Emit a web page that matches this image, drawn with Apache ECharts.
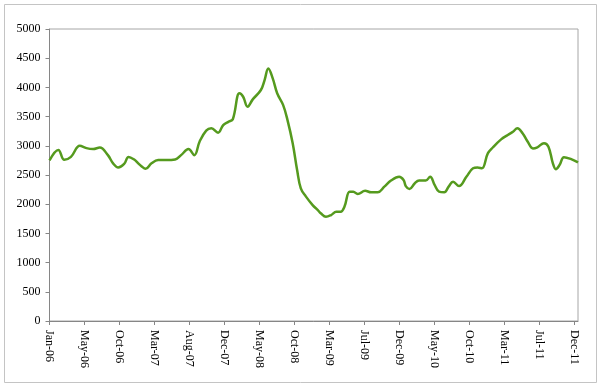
<!DOCTYPE html>
<html>
<head>
<meta charset="utf-8">
<script src="https://cdn.jsdelivr.net/npm/echarts@6/dist/echarts.min.js"></script>
<style>
  html, body { margin: 0; padding: 0; background: #fff; }
  #chart { width: 600px; height: 385px; }
</style>
</head>
<body>
<div id="chart"></div>
<script>
// Month offsets from Jan-06 (fractional months) and the index values
const months = [0, 1.2, 2.0, 2.9, 4.1, 5.0, 5.9, 6.8, 7.9, 8.6, 9.3, 10.1, 10.7, 11.5, 12.0, 12.4, 13.0, 13.8, 14.7, 15.8,
  17.0, 17.8, 18.8, 19.6, 20.3, 21.2, 21.9, 22.8, 23.5, 24.2, 24.8, 25.7, 26.2, 26.8, 27.5, 28.6, 29.1, 29.6, 30.2, 30.8,
  31.6, 32.2, 32.9, 33.5, 34.0, 34.7, 35.6, 36.3, 36.7, 37.4, 38.1, 38.8, 39.4, 39.9, 40.6, 41.1, 41.7, 42.7, 43.5, 44.4,
  45.3, 46.2, 47.3, 47.9, 48.2, 48.7, 49.4, 50.0, 50.9, 51.5, 52.1, 52.7, 53.4, 54.0, 54.6, 55.4, 56.4, 57.3, 57.9, 58.5,
  59.3, 60.0, 61.1, 62.0, 62.7, 63.3, 64.0, 64.7, 65.4, 66.0, 66.9, 67.5, 68.1, 68.5, 69.0, 69.6, 70.5, 71.5];
const values = [2750, 2930, 2760, 2810, 3000, 2960, 2945, 2970, 2840, 2700, 2630, 2690, 2810, 2760, 2700, 2655, 2605, 2700, 2755, 2755,
  2765, 2840, 2945, 2840, 3070, 3260, 3300, 3225, 3355, 3410, 3455, 3900, 3840, 3670, 3795, 3955, 4125, 4325, 4155, 3900,
  3700, 3440, 3045, 2585, 2270, 2130, 1985, 1900, 1845, 1785, 1815, 1870, 1870, 1955, 2215, 2215, 2175, 2230, 2205, 2205,
  2300, 2405, 2470, 2415, 2310, 2260, 2355, 2405, 2405, 2470, 2330, 2215, 2205, 2300, 2385, 2310, 2470, 2615, 2630, 2615,
  2870, 2975, 3110, 3185, 3240, 3300, 3215, 3070, 2955, 2975, 3045, 2985, 2700, 2600, 2670, 2805, 2775, 2715];
const tickLabels = ['Jan-06', 'May-06', 'Oct-06', 'Mar-07', 'Aug-07', 'Dec-07', 'May-08', 'Oct-08', 'Mar-09',
  'Jul-09', 'Dec-09', 'May-10', 'Oct-10', 'Mar-11', 'Jul-11', 'Dec-11'];
const lastMonth = 71;      // Dec-11
const axisEnd = 71.5;

const step = lastMonth / (tickLabels.length - 1);
const tickPositions = tickLabels.map((_, i) => i * step);
const seriesData = months.map((m, i) => [m, values[i]]);

const font = 'Liberation Serif';
const chart = echarts.init(document.getElementById('chart'), null, { renderer: 'canvas' });
chart.setOption({
  animation: false,
  backgroundColor: '#ffffff',
  graphic: [{
    type: 'rect',
    shape: { x: 4.5, y: 4.5, width: 592, height: 378 },
    style: { fill: 'none', stroke: '#c4c4c4', lineWidth: 1 },
    silent: true
  }],
  grid: {
    left: 49.5, top: 29, right: 22, bottom: 64,
    show: true, borderColor: '#a6a6a6', borderWidth: 1, backgroundColor: 'transparent'
  },
  xAxis: {
    type: 'value',
    min: 0, max: axisEnd,
    splitLine: { show: false },
    axisLine: { show: true, onZero: false, lineStyle: { color: '#868686', width: 1 } },
    axisTick: { show: true, length: 4, customValues: tickPositions, lineStyle: { color: '#868686' } },
    axisLabel: {
      customValues: tickPositions,
      rotate: -90, margin: 9,
      fontFamily: font, fontSize: 12, color: '#000',
      formatter: v => tickLabels[Math.round(v / step)]
    }
  },
  yAxis: {
    type: 'value',
    min: 0, max: 5000, interval: 500,
    splitLine: { show: false },
    axisLine: { show: true, lineStyle: { color: '#868686', width: 1 } },
    axisTick: { show: true, length: 4, lineStyle: { color: '#868686' } },
    axisLabel: { margin: 9, fontFamily: font, fontSize: 12, color: '#000', formatter: v => String(v) }
  },
  series: [{
    type: 'line',
    data: seriesData,
    smooth: 0.4,
    showSymbol: false,
    lineStyle: { color: '#559a1e', width: 2.5 },
    itemStyle: { color: '#559a1e' }
  }]
});
</script>
</body>
</html>
